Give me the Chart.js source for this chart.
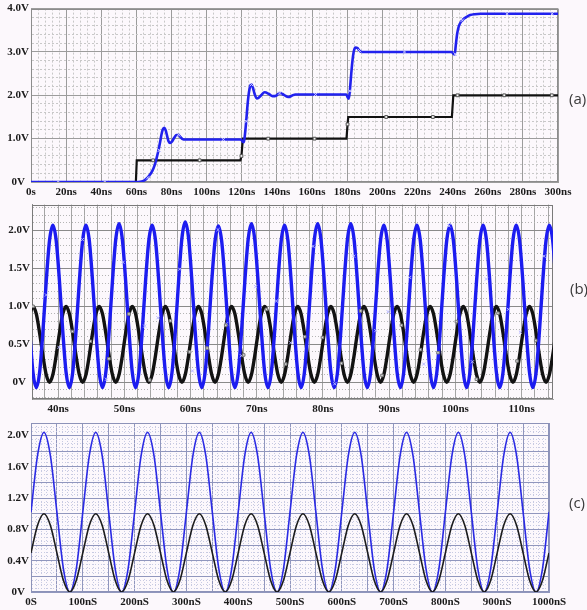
<!DOCTYPE html>
<html>
<head>
<meta charset="utf-8">
<script src="https://cdn.jsdelivr.net/npm/chart.js@4.4.0/dist/chart.umd.min.js"></script>
<style>
  html, body { margin: 0; padding: 0; background: #fcf8fc; }
  body { width: 587px; height: 610px; position: relative; overflow: hidden; }
  canvas { position: absolute; left: 0; }
  .tag { position: absolute; font: 15px 'Open Sans', sans-serif; line-height: 18px; color: #3a3a3a; }
</style>
</head>
<body>
<canvas id="chartA" width="587" height="200" style="top:0;width:587px;height:200px"></canvas>
<canvas id="chartB" width="587" height="220" style="top:196px;width:587px;height:220px"></canvas>
<canvas id="chartC" width="587" height="196" style="top:414px;width:587px;height:196px"></canvas>
<div class="tag" style="left:569px;top:89px">(a)</div>
<div class="tag" style="left:570px;top:279px">(b)</div>
<div class="tag" style="left:569px;top:493px">(c)</div>
<script>
// ---- panel (a): staircase input and output
const aXLabels = ['0s', '20ns', '40ns', '60ns', '80ns', '100ns', '120ns', '140ns', '160ns', '180ns', '200ns', '220ns', '240ns', '260ns', '280ns', '300ns'];
const aYLabels = ['0V', '1.0V', '2.0V', '3.0V', '4.0V'];

const aBlackT = [0, 59.7, 60.2, 119.2, 119.8, 120.6, 179.6, 180.2, 180.6, 239.6, 240.4, 300];
const aBlackV = [0, 0, 0.5, 0.5, 0.6, 1.0, 1.0, 1.33, 1.5, 1.5, 2.0, 2.0];

const aBlueT = [0, 61, 63, 65, 67, 69, 70.5, 71.5, 72.5, 73.5, 74.3, 75, 75.8, 76.6, 77.5, 78.3, 79.2, 80.2, 81.5, 82.7, 83.8, 85, 86.3, 88,
  119.5, 120.5, 121.2, 121.8, 122.5, 123.2, 124, 124.8, 125.5, 126.3, 127.3, 128.5, 129.5, 131, 133, 135.5, 137.5, 139.5, 141.5, 144, 146.5, 148.5, 150.5, 153,
  179.5, 180.3, 180.9, 181.5, 182.2, 183, 183.8, 184.8, 185.8, 187, 188.5, 190,
  239.5, 240.5, 241.2, 241.8, 242.6, 243.6, 245, 246.5, 248, 250, 252.5, 256, 300];
const aBlueV = [0, 0, 0.01, 0.05, 0.13, 0.25, 0.4, 0.55, 0.72, 0.92, 1.1, 1.21, 1.25, 1.2, 1.06, 0.94, 0.9, 0.93, 1.02, 1.08, 1.09, 1.04, 0.99, 0.98,
  0.98, 0.93, 0.92, 1.1, 1.4, 1.75, 2.05, 2.22, 2.25, 2.18, 2.03, 1.93, 1.94, 2.0, 2.07, 2.03, 1.98, 1.99, 2.05, 2.01, 1.96, 1.99, 2.02, 2.02,
  2.02, 1.95, 1.92, 2.1, 2.45, 2.8, 3.02, 3.1, 3.09, 3.03, 3.0, 3.0,
  3.0, 2.96, 2.94, 3.15, 3.42, 3.6, 3.71, 3.77, 3.81, 3.85, 3.87, 3.88, 3.88];

const aBlackMarkT = [69.5, 96, 119.8, 135, 161.4, 180.2, 202.2, 228.8, 242.8, 269.4, 296.5];
const aBlackMarkV = [0.5, 0.5, 0.6, 1.0, 1.0, 1.33, 1.5, 1.5, 2.0, 2.0, 2.0];
const aBlueMarkT = [15.5, 42, 66.5, 73, 84, 109.5, 122.5, 125.5, 141.5, 162, 181.5, 187, 212.6, 241.5, 245.5, 271, 296.7];
const aBlueMarkV = [0, 0, 0.1, 0.73, 1.09, 0.98, 1.4, 2.25, 2.05, 2.02, 2.1, 3.03, 3.0, 2.95, 3.73, 3.88, 3.88];

// ---- panel (b): 200 MHz sine in and out
const bXLabels = ['40ns', '50ns', '60ns', '70ns', '80ns', '90ns', '100ns', '110ns'];
const bYLabels = ['0V', '0.5V', '1.0V', '1.5V', '2.0V'];

const bTime = [
  35.7, 36.2, 36.7, 37.2, 37.7, 38.2, 38.7, 39.2, 39.7, 40.2,
  40.7, 41.2, 41.7, 42.2, 42.7, 43.2, 43.7, 44.2, 44.7, 45.2,
  45.7, 46.2, 46.7, 47.2, 47.7, 48.2, 48.7, 49.2, 49.7, 50.2,
  50.7, 51.2, 51.7, 52.2, 52.7, 53.2, 53.7, 54.2, 54.7, 55.2,
  55.7, 56.2, 56.7, 57.2, 57.7, 58.2, 58.7, 59.2, 59.7, 60.2,
  60.7, 61.2, 61.7, 62.2, 62.7, 63.2, 63.7, 64.2, 64.7, 65.2,
  65.7, 66.2, 66.7, 67.2, 67.7, 68.2, 68.7, 69.2, 69.7, 70.2,
  70.7, 71.2, 71.7, 72.2, 72.7, 73.2, 73.7, 74.2, 74.7, 75.2,
  75.7, 76.2, 76.7, 77.2, 77.7, 78.2, 78.7, 79.2, 79.7, 80.2,
  80.7, 81.2, 81.7, 82.2, 82.7, 83.2, 83.7, 84.2, 84.7, 85.2,
  85.7, 86.2, 86.7, 87.2, 87.7, 88.2, 88.7, 89.2, 89.7, 90.2,
  90.7, 91.2, 91.7, 92.2, 92.7, 93.2, 93.7, 94.2, 94.7, 95.2,
  95.7, 96.2, 96.7, 97.2, 97.7, 98.2, 98.7, 99.2, 99.7, 100.2,
  100.7, 101.2, 101.7, 102.2, 102.7, 103.2, 103.7, 104.2, 104.7, 105.2,
  105.7, 106.2, 106.7, 107.2, 107.7, 108.2, 108.7, 109.2, 109.7, 110.2,
  110.7, 111.2, 111.7, 112.2, 112.7, 113.2, 113.7, 114.2, 114.7, 115.2];
const bBlack = [
  0.9, 1, 0.9, 0.65, 0.35, 0.1, 0, 0.1, 0.35, 0.65,
  0.9, 1, 0.9, 0.65, 0.35, 0.1, 0, 0.1, 0.35, 0.65,
  0.9, 1, 0.9, 0.65, 0.35, 0.1, 0, 0.1, 0.35, 0.65,
  0.9, 1, 0.9, 0.65, 0.35, 0.1, 0, 0.1, 0.35, 0.65,
  0.9, 1, 0.9, 0.65, 0.35, 0.1, 0, 0.1, 0.35, 0.65,
  0.9, 1, 0.9, 0.65, 0.35, 0.1, 0, 0.1, 0.35, 0.65,
  0.9, 1, 0.9, 0.65, 0.35, 0.1, 0, 0.1, 0.35, 0.65,
  0.9, 1, 0.9, 0.65, 0.35, 0.1, 0, 0.1, 0.35, 0.65,
  0.9, 1, 0.9, 0.65, 0.35, 0.1, 0, 0.1, 0.35, 0.65,
  0.9, 1, 0.9, 0.65, 0.35, 0.1, 0, 0.1, 0.35, 0.65,
  0.9, 1, 0.9, 0.65, 0.35, 0.1, 0, 0.1, 0.35, 0.65,
  0.9, 1, 0.9, 0.65, 0.35, 0.1, 0, 0.1, 0.35, 0.65,
  0.9, 1, 0.9, 0.65, 0.35, 0.1, 0, 0.1, 0.35, 0.65,
  0.9, 1, 0.9, 0.65, 0.35, 0.1, 0, 0.1, 0.35, 0.65,
  0.9, 1, 0.9, 0.65, 0.35, 0.1, 0, 0.1, 0.35, 0.65,
  0.9, 1, 0.9, 0.65, 0.35, 0.1, 0, 0.1, 0.35, 0.65];
const bBlue = [
  0.67, 0.13, -0.07, 0.13, 0.67, 1.33, 1.87, 2.07, 1.87, 1.33,
  0.67, 0.13, -0.07, 0.13, 0.67, 1.33, 1.87, 2.07, 1.87, 1.33,
  0.67, 0.13, -0.07, 0.13, 0.67, 1.33, 1.88, 2.09, 1.88, 1.33,
  0.67, 0.13, -0.07, 0.13, 0.67, 1.33, 1.87, 2.07, 1.87, 1.33,
  0.67, 0.13, -0.07, 0.13, 0.67, 1.34, 1.9, 2.11, 1.9, 1.34,
  0.67, 0.13, -0.07, 0.13, 0.67, 1.33, 1.86, 2.06, 1.86, 1.33,
  0.67, 0.13, -0.07, 0.13, 0.67, 1.33, 1.88, 2.09, 1.88, 1.33,
  0.67, 0.13, -0.07, 0.13, 0.67, 1.33, 1.87, 2.07, 1.87, 1.33,
  0.67, 0.13, -0.07, 0.13, 0.67, 1.33, 1.88, 2.09, 1.88, 1.33,
  0.67, 0.13, -0.07, 0.13, 0.67, 1.33, 1.88, 2.09, 1.88, 1.33,
  0.67, 0.13, -0.07, 0.13, 0.67, 1.33, 1.87, 2.07, 1.87, 1.33,
  0.67, 0.13, -0.07, 0.13, 0.67, 1.33, 1.87, 2.07, 1.87, 1.33,
  0.67, 0.13, -0.07, 0.13, 0.67, 1.33, 1.87, 2.07, 1.87, 1.33,
  0.67, 0.13, -0.07, 0.13, 0.67, 1.33, 1.87, 2.07, 1.87, 1.33,
  0.67, 0.13, -0.07, 0.13, 0.67, 1.33, 1.87, 2.07, 1.87, 1.33,
  0.67, 0.13, -0.07, 0.13, 0.67, 1.33, 1.87, 2.07, 1.87, 1.33];

const bBlackMarkT = [36.2, 42.15, 44.87, 47.68, 50.7, 53.83, 56.96, 59.87, 62.5, 65.31, 68.03, 71.46, 74.37,
  77.24, 79.92, 82.79, 85.7, 88.92, 91.85, 94.72, 97.38, 100.16, 103.18, 106.44, 109.31, 112.14];
const bBlackMarkV = [1.0, 0.67, 0.54, 0.31, 0.9, 0.03, 0.81, 0.4, 0.45, 0.75, 0.36, 0.96, 0.24,
  0.6, 0.59, 0.25, 0.94, 0.09, 0.75, 0.43, 0.39, 0.8, 0.04, 0.91, 0.28, 0.55];
const bBlueMarkT = [38.23, 40.13, 43.66, 47.29, 49.8, 53.07, 55.08, 58.36, 60.28, 64.15, 65.41, 67.68, 69.84, 72.97, 75.13,
  78.5, 81.78, 84.65, 87.98, 89.84, 93.1, 95.22, 99.04, 102.58, 104.69, 108.01, 109.83, 113.39];
const bBlueMarkV = [1.15, 0.46, 1.88, 0.04, 1.58, 0.74, 0.85, 1.49, 0.15, 2.01, 0.77, 0.35, 1.26, 1.07, 0.52,
  1.79, -0.02, 1.66, 0.68, 0.93, 1.38, 0.24, 2.06, 0.27, 1.36, 0.96, 0.66, 1.66];

// ---- panel (c): 10 MHz sine in and out
const cXLabels = ['0S', '100nS', '200nS', '300nS', '400nS', '500nS', '600nS', '700nS', '800nS', '900nS', '1000nS'];
const cYLabels = ['0V', '0.4V', '0.8V', '1.2V', '1.6V', '2.0V'];

const cTime = [
  0, 12.5, 25, 37.5, 50, 62.5, 75, 87.5,
  100, 112.5, 125, 137.5, 150, 162.5, 175, 187.5,
  200, 212.5, 225, 237.5, 250, 262.5, 275, 287.5,
  300, 312.5, 325, 337.5, 350, 362.5, 375, 387.5,
  400, 412.5, 425, 437.5, 450, 462.5, 475, 487.5,
  500, 512.5, 525, 537.5, 550, 562.5, 575, 587.5,
  600, 612.5, 625, 637.5, 650, 662.5, 675, 687.5,
  700, 712.5, 725, 737.5, 750, 762.5, 775, 787.5,
  800, 812.5, 825, 837.5, 850, 862.5, 875, 887.5,
  900, 912.5, 925, 937.5, 950, 962.5, 975, 987.5,
  1000];
const cBlack = [
  0.5, 0.85, 1, 0.85, 0.5, 0.15, 0, 0.15,
  0.5, 0.85, 1, 0.85, 0.5, 0.15, 0, 0.15,
  0.5, 0.85, 1, 0.85, 0.5, 0.15, 0, 0.15,
  0.5, 0.85, 1, 0.85, 0.5, 0.15, 0, 0.15,
  0.5, 0.85, 1, 0.85, 0.5, 0.15, 0, 0.15,
  0.5, 0.85, 1, 0.85, 0.5, 0.15, 0, 0.15,
  0.5, 0.85, 1, 0.85, 0.5, 0.15, 0, 0.15,
  0.5, 0.85, 1, 0.85, 0.5, 0.15, 0, 0.15,
  0.5, 0.85, 1, 0.85, 0.5, 0.15, 0, 0.15,
  0.5, 0.85, 1, 0.85, 0.5, 0.15, 0, 0.15,
  0.5];
const cBlue = [
  1.02, 1.74, 2.04, 1.74, 1.02, 0.3, 0, 0.3,
  1.02, 1.74, 2.04, 1.74, 1.02, 0.3, 0, 0.3,
  1.02, 1.74, 2.04, 1.74, 1.02, 0.3, 0, 0.3,
  1.02, 1.74, 2.04, 1.74, 1.02, 0.3, 0, 0.3,
  1.02, 1.74, 2.04, 1.74, 1.02, 0.3, 0, 0.3,
  1.02, 1.74, 2.04, 1.74, 1.02, 0.3, 0, 0.3,
  1.02, 1.74, 2.04, 1.74, 1.02, 0.3, 0, 0.3,
  1.02, 1.74, 2.04, 1.74, 1.02, 0.3, 0, 0.3,
  1.02, 1.74, 2.04, 1.74, 1.02, 0.3, 0, 0.3,
  1.02, 1.74, 2.04, 1.74, 1.02, 0.3, 0, 0.3,
  1.02];

const near = (v, s) => Math.abs(v / s - Math.round(v / s)) < 1e-6;
const pts = (xs, ys) => xs.map((x, i) => ({ x: x, y: ys[i] }));

// axis with minor grid every `step`, solid grid every `major`, labels every `every` from `first`
function axis(o) {
  return {
    type: 'linear',
    position: o.pos,
    min: o.min,
    max: o.max,
    afterBuildTicks: s => {
      const list = [];
      for (let k = Math.ceil(o.min / o.step - 1e-6); k * o.step <= o.max + 1e-6; k++) {
        list.push({ value: +(k * o.step).toFixed(4) });
      }
      s.ticks = list;
    },
    afterFit: s => {
      if (o.pos === 'left') s.width = o.size;
      else s.height = o.size;
    },
    grid: {
      drawTicks: false,
      lineWidth: 1,
      color: c => (c.tick && near(c.tick.value, o.major)) ? o.majorColor : o.minorColor
    },
    border: {
      color: o.majorColor,
      dash: c => (c.tick && !near(c.tick.value, o.major)) ? o.dash : []
    },
    ticks: {
      autoSkip: false,
      maxRotation: 0,
      padding: o.pad,
      crossAlign: o.pos === 'left' ? 'center' : 'near',
      color: '#1b1b1b',
      font: { family: "'Liberation Serif', serif", weight: 'bold', size: 11 },
      callback: v => {
        const k = (v - o.first) / o.every;
        return (k > -1e-6 && near(k, 1)) ? (o.labels[Math.round(k)] || '') : '';
      }
    }
  };
}

const frame = {
  id: 'frame',
  beforeDatasetsDraw(chart, args, opts) {
    const a = chart.chartArea;
    const c = chart.ctx;
    c.save();
    c.strokeStyle = opts.color;
    c.lineWidth = 1;
    c.strokeRect(Math.round(a.left) + 0.5, Math.round(a.top) + 0.5, Math.round(a.width) - 1, Math.round(a.height) - 1);
    c.restore();
  }
};

function line(xs, ys, color, width, smooth) {
  return {
    data: pts(xs, ys),
    borderColor: color,
    borderWidth: width,
    pointRadius: 0,
    fill: false,
    tension: 0,
    cubicInterpolationMode: smooth ? 'monotone' : 'default'
  };
}

function marks(xs, ys, style, fill, stroke, r) {
  return {
    data: pts(xs, ys),
    showLine: false,
    pointStyle: style,
    pointRadius: r,
    pointBackgroundColor: fill,
    pointBorderColor: stroke,
    pointBorderWidth: 1
  };
}

function options(pad, x, y, frameColor) {
  return {
    responsive: false,
    animation: false,
    events: [],
    layout: { padding: pad },
    plugins: { legend: { display: false }, tooltip: { enabled: false }, frame: { color: frameColor } },
    scales: { x: x, y: y }
  };
}

new Chart(document.getElementById('chartA'), {
  type: 'line',
  data: {
    datasets: [
      marks(aBlackMarkT, aBlackMarkV, 'rect', '#f4f4f4', '#555', 2),
      marks(aBlueMarkT, aBlueMarkV, 'crossRot', '#aab', '#c8c8ff', 2.5),
      line(aBlueT, aBlueV, '#2121ee', 2.6, true),
      line(aBlackT, aBlackV, '#111111', 2.2, false)
    ]
  },
  options: options({ left: 0, top: 8, right: 29, bottom: 0 },
    axis({ pos: 'bottom', min: 0, max: 300, step: 4, major: 20, majorColor: '#9c9c9c', minorColor: '#c8c8c8', dash: [2, 2],
      size: 18, pad: 4, first: 0, every: 20, labels: aXLabels }),
    axis({ pos: 'left', min: 0, max: 4, step: 0.2, major: 1, majorColor: '#9c9c9c', minorColor: '#c8c8c8', dash: [2, 2],
      size: 31, pad: 2, first: 0, every: 1, labels: aYLabels }),
    '#8c8c8c'),
  plugins: [frame]
});

new Chart(document.getElementById('chartB'), {
  type: 'line',
  data: {
    datasets: [
      marks(bBlackMarkT, bBlackMarkV, 'rect', '#d8d8d8', '#777', 1.8),
      marks(bBlueMarkT, bBlueMarkV, 'crossRot', '#aab', '#b4b4ff', 2.2),
      line(bTime, bBlue, '#1c1cf0', 3.4, true),
      line(bTime, bBlack, '#121212', 3.4, true)
    ]
  },
  options: options({ left: 0, top: 7, right: 34, bottom: 0 },
    axis({ pos: 'bottom', min: 36.05, max: 114.75, step: 2, major: 2, majorColor: '#a4a4a4', minorColor: '#a4a4a4', dash: [],
      size: 17, pad: 4, first: 40, every: 10, labels: bXLabels }),
    axis({ pos: 'left', min: -0.22, max: 2.34, step: 0.1, major: 0.5, majorColor: '#8a8a8a', minorColor: '#b4b4b4', dash: [1, 2],
      size: 32, pad: 2, first: 0, every: 0.5, labels: bYLabels }),
    '#7a7a7a'),
  plugins: [frame]
});

new Chart(document.getElementById('chartC'), {
  type: 'line',
  data: {
    datasets: [
      line(cTime, cBlack, '#1c1c1c', 1.6, true),
      line(cTime, cBlue, '#2a2ae4', 1.6, true)
    ]
  },
  options: options({ left: 0, top: 9, right: 38, bottom: 0 },
    axis({ pos: 'bottom', min: 0, max: 1000, step: 10, major: 50, majorColor: '#9096bd', minorColor: '#c7cae2', dash: [1, 2],
      size: 18, pad: 4, first: 0, every: 100, labels: cXLabels }),
    axis({ pos: 'left', min: 0, max: 2.16, step: 0.05, major: 0.2, majorColor: '#9096bd', minorColor: '#c7cae2', dash: [1, 2],
      size: 31, pad: 2, first: 0, every: 0.4, labels: cYLabels }),
    '#8c92b8'),
  plugins: [frame]
});
</script>
</body>
</html>
